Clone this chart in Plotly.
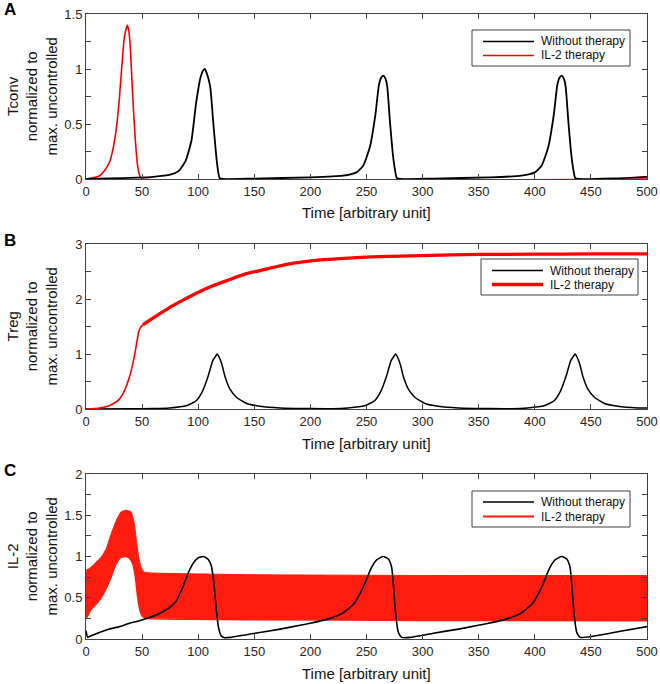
import plotly.graph_objects as go

# ---------------- data ----------------
# Panel A: Tconv
a_black_t = [0, 20, 45, 60, 75, 83, 89, 94, 98, 102,
             104, 105.8, 108, 110.7, 113.7, 116.7, 119, 122, 150, 200,
             229, 241, 247, 253, 258, 261, 263, 265, 267, 268.5,
             271, 274, 277, 280, 310, 360, 388, 400, 406, 412,
             417, 420, 422, 424, 426, 427.5, 430, 433, 436, 439,
             470, 500]
a_black_v = [0, 0.005, 0.012, 0.02, 0.04, 0.076, 0.17, 0.35, 0.68, 0.92,
             0.98, 1.0, 0.95, 0.84, 0.48, 0.15, 0.01, 0.0, 0.004, 0.015,
             0.03, 0.06, 0.12, 0.29, 0.59, 0.85, 0.92, 0.94, 0.91, 0.84,
             0.51, 0.18, 0.01, 0.0, 0.004, 0.015, 0.03, 0.06, 0.12, 0.29,
             0.59, 0.85, 0.92, 0.94, 0.91, 0.84, 0.51, 0.18, 0.01, 0.0,
             0.005, 0.02]
a_red_t = [0, 6, 12, 16.4, 20.8, 23.8, 26.8, 29.8, 32.1, 34.2,
           36.8, 38.4, 39.8, 41.7, 44, 46.1, 48.5, 50.6, 500]
a_red_v = [0, 0.01, 0.03, 0.076, 0.15, 0.26, 0.44, 0.74, 1.05, 1.29,
           1.40, 1.33, 1.14, 0.74, 0.35, 0.11, 0.015, 0, 0]

# Panel B: Treg
b_black_t = [0, 40, 60, 74.4, 89.3, 98.2, 104, 108.6, 113, 115.5,
             117, 118.5, 121, 124, 128.3, 134.3, 143.2, 155, 173, 200,
             220, 233.4, 248.3, 257.2, 263, 267.6, 272, 274.5, 276, 277.5,
             280, 283, 287.3, 293.3, 302.2, 314, 332, 360, 380, 393.4,
             408.3, 417.2, 423, 427.6, 432, 434.5, 436, 437.5, 440, 443,
             447.3, 453.3, 462.2, 474, 492, 500]
b_black_v = [0, 0.004, 0.008, 0.02, 0.06, 0.15, 0.33, 0.58, 0.88, 0.96,
             1.0, 0.95, 0.82, 0.58, 0.36, 0.21, 0.10, 0.05, 0.02, 0.008,
             0.006, 0.02, 0.06, 0.15, 0.33, 0.58, 0.88, 0.96, 1.0, 0.95,
             0.82, 0.58, 0.36, 0.21, 0.10, 0.05, 0.02, 0.008, 0.006, 0.02,
             0.06, 0.15, 0.33, 0.58, 0.88, 0.96, 1.0, 0.95, 0.82, 0.58,
             0.36, 0.21, 0.10, 0.05, 0.02, 0.017]
b_red_rise_t = [0, 11.9, 17.9, 23.8, 29.8, 34.2, 38.7, 41.7, 44, 45.5, 47, 48.5, 50.6]
b_red_rise_v = [0, 0.018, 0.04, 0.09, 0.18, 0.33, 0.58, 0.82, 1.06, 1.24, 1.41, 1.48, 1.53]
b_red_plateau_t = [50.6, 56.5, 65.5, 77.4, 89.3, 99.7, 113, 125, 143, 160,
                   179, 209, 230, 260, 300, 350, 400, 450, 500]
b_red_plateau_v = [1.53, 1.61, 1.73, 1.88, 2.01, 2.12, 2.24, 2.33, 2.46, 2.54,
                   2.63, 2.71, 2.74, 2.77, 2.79, 2.81, 2.815, 2.82, 2.82]

# Panel C: IL-2
c_black_t = [0, 1.5, 4.5, 11.9, 20.8, 29.8, 38.7, 47.6, 56.5, 65.5,
             74.4, 80.4, 86.3, 90.8, 95.2, 99.7, 104.5, 108.6, 111.6, 113.7,
             116, 118.1, 120.5, 123.5, 128.3, 150.6, 173, 199.7, 217.5, 229.4,
             238.3, 245.7, 250.2, 254.6, 259.1, 265, 269.5, 272.4, 273.9, 276,
             278.4, 281.4, 288.8, 309.6, 332, 358.7, 376.5, 388.4, 397.3, 404.7,
             409.2, 413.6, 418.1, 424, 428.5, 431.4, 432.9, 435, 437.4, 440.4,
             447.8, 475, 500]
c_black_v = [0.10, 0.02, 0.04, 0.08, 0.12, 0.15, 0.19, 0.22, 0.26, 0.31,
             0.38, 0.46, 0.63, 0.79, 0.91, 0.98, 1.0, 0.97, 0.89, 0.71,
             0.38, 0.14, 0.04, 0.016, 0.02, 0.07, 0.12, 0.19, 0.25, 0.32,
             0.42, 0.59, 0.73, 0.87, 0.96, 1.0, 0.97, 0.87, 0.67, 0.30,
             0.08, 0.02, 0.02, 0.07, 0.12, 0.19, 0.25, 0.32, 0.42, 0.59,
             0.73, 0.87, 0.96, 1.0, 0.97, 0.87, 0.67, 0.30, 0.08, 0.02,
             0.025, 0.09, 0.15]
# IL-2 therapy oscillates rapidly: upper and lower envelopes of the band
c_red_upper_t = [0, 4.5, 8.9, 13.4, 17.9, 22.3, 26.8, 31.2, 35.7, 40.2,
                 43.2, 44.6, 47, 49.1, 52.1, 59.5, 143, 300, 500]
c_red_upper_v = [0.83, 0.87, 0.93, 0.99, 1.09, 1.27, 1.43, 1.54, 1.56, 1.54,
                 1.39, 1.23, 0.99, 0.87, 0.81, 0.80, 0.78, 0.77, 0.77]
c_red_lower_t = [0, 1.5, 4.5, 8.9, 13.4, 17.9, 22.3, 26.8, 31.2, 35.7,
                 38.7, 41.7, 44, 46.1, 48.2, 50.6, 53.6, 89, 143, 300, 500]
c_red_lower_v = [0.25, 0.28, 0.36, 0.42, 0.5, 0.61, 0.75, 0.91, 0.99, 1.0,
                 0.98, 0.91, 0.75, 0.5, 0.34, 0.27, 0.25, 0.24, 0.234, 0.225, 0.22]

x_ticks = [0, 50, 100, 150, 200, 250, 300, 350, 400, 450, 500]
a_yticks = [0, 0.5, 1, 1.5]
a_yticklabels = ["0", "0.5", "1", "1.5"]
b_yticks = [0, 1, 2, 3]
b_yticklabels = ["0", "1", "2", "3"]
c_yticks = [0, 0.5, 1, 1.5, 2]
c_yticklabels = ["0", "0.5", "1", "1.5", "2"]
series_names = ["Without therapy", "IL-2 therapy"]
panel_titles = ["Tconv", "Treg", "IL-2"]
panel_letters = ["A", "B", "C"]
x_title = "Time [arbitrary unit]"

# ---------------- style ----------------
W, H = 660, 684
FONT = "Liberation Sans, Arial, Helvetica, sans-serif"
RED = "#ff0000"
RED_BAND = "rgb(255,28,14)"
BLACK = "#000000"
AX = "#404040"


def px(x):
    return x / W


def py(y):
    return 1 - y / H


X0, X1 = 86, 647
panels_px = [(14, 179), (244, 409), (474, 639)]

fig = go.Figure()

spline = dict(shape="spline", smoothing=0.5)

# Panel A
fig.add_trace(go.Scatter(x=a_red_t, y=a_red_v, mode="lines", name=series_names[1],
                         line=dict(color=RED, width=1.6, **spline), xaxis="x", yaxis="y"))
fig.add_trace(go.Scatter(x=a_black_t, y=a_black_v, mode="lines", name=series_names[0],
                         line=dict(color=BLACK, width=1.8, **spline), xaxis="x", yaxis="y"))

# Panel B
fig.add_trace(go.Scatter(x=b_black_t, y=b_black_v, mode="lines", name=series_names[0],
                         line=dict(color=BLACK, width=1.5, **spline), xaxis="x2", yaxis="y2"))
fig.add_trace(go.Scatter(x=b_red_rise_t, y=b_red_rise_v, mode="lines", name=series_names[1],
                         line=dict(color=RED, width=1.6, **spline), xaxis="x2", yaxis="y2"))
fig.add_trace(go.Scatter(x=b_red_plateau_t, y=b_red_plateau_v, mode="lines", name=series_names[1],
                         line=dict(color=RED, width=3.3, **spline), xaxis="x2", yaxis="y2"))

# Panel C
fig.add_trace(go.Scatter(x=c_red_lower_t, y=c_red_lower_v, mode="lines", name=series_names[1],
                         line=dict(color=RED_BAND, width=1.5, **spline), xaxis="x3", yaxis="y3"))
fig.add_trace(go.Scatter(x=c_red_upper_t, y=c_red_upper_v, mode="lines", name=series_names[1],
                         line=dict(color=RED_BAND, width=1.0, **spline), fill="tonexty",
                         fillcolor=RED_BAND, xaxis="x3", yaxis="y3"))
fig.add_trace(go.Scatter(x=c_black_t, y=c_black_v, mode="lines", name=series_names[0],
                         line=dict(color=BLACK, width=1.6, **spline), xaxis="x3", yaxis="y3"))

common = dict(showline=True, linecolor=AX, linewidth=1, mirror="ticks", ticks="inside",
              ticklen=5, tickcolor=AX, tickwidth=1, showgrid=False, zeroline=False,
              tickfont=dict(size=13, color="#262626", family=FONT), automargin=False,
              fixedrange=True)

layout = dict(width=W, height=H, margin=dict(l=0, r=0, t=0, b=0),
              paper_bgcolor="white", plot_bgcolor="white",
              font=dict(family=FONT, color="#111"), showlegend=False)

y_specs = [(1.5, a_yticks, a_yticklabels, 0.25),
           (3, b_yticks, b_yticklabels, 0.5),
           (2, c_yticks, c_yticklabels, 0.25)]
# legend boxes (pixel layout): left, top, right, bottom, line x0, line x1, text x, row1 y, row2 y
legend_boxes = [(472, 30, 630, 66, 483, 534, 539, 41.5, 55.5),
                (481, 259, 638, 295, 492, 543, 548, 270.5, 284.5),
                (472, 491, 630, 527, 483, 534, 539, 502, 516.5)]
legend_red_width = [1.6, 3.3, 2.0]
legend_red_color = [RED, RED, RED_BAND]

annotations = []
shapes = []
for i, ((top, bot), (ymax, tv, tt, minor_dt)) in enumerate(zip(panels_px, y_specs)):
    sfx = "" if i == 0 else str(i + 1)
    layout["xaxis" + sfx] = dict(common, domain=[px(X0), px(X1)], range=[0, 500],
                                 tickvals=x_ticks, anchor="y" + sfx)
    layout["yaxis" + sfx] = dict(common, domain=[py(bot), py(top)], range=[0, ymax],
                                 tickvals=tv, ticktext=tt, anchor="x" + sfx,
                                 minor=dict(ticks="inside", ticklen=5, tickcolor=AX,
                                            dtick=minor_dt, tick0=0))
    annotations.append(dict(text=panel_letters[i], x=px(2), y=py(top - 4), xref="paper", yref="paper",
                            xanchor="left", yanchor="middle", showarrow=False,
                            font=dict(size=17, family=FONT, color="#000", weight="bold")))
    annotations.append(dict(text=panel_titles[i] + "<br>normalized to<br>max. uncontrolled",
                            x=px(31), y=py((top + bot) / 2), xref="paper", yref="paper",
                            xanchor="center", yanchor="middle", textangle=-90, showarrow=False,
                            align="center", font=dict(size=15, family=FONT, color="#111")))
    annotations.append(dict(text=x_title, x=px((X0 + X1) / 2), y=py(bot + 34),
                            xref="paper", yref="paper", xanchor="center", yanchor="middle",
                            showarrow=False, font=dict(size=15, family=FONT, color="#111")))

    # legend
    l, t, r, b, lx0, lx1, tx, r1, r2 = legend_boxes[i]
    shapes.append(dict(type="rect", xref="paper", yref="paper", x0=px(l), x1=px(r),
                       y0=py(b), y1=py(t), line=dict(color=AX, width=1), fillcolor="white",
                       layer="above"))
    shapes.append(dict(type="line", xref="paper", yref="paper", x0=px(lx0), x1=px(lx1),
                       y0=py(r1), y1=py(r1), line=dict(color=BLACK, width=1.6), layer="above"))
    shapes.append(dict(type="line", xref="paper", yref="paper", x0=px(lx0), x1=px(lx1),
                       y0=py(r2), y1=py(r2),
                       line=dict(color=legend_red_color[i], width=legend_red_width[i]), layer="above"))
    for name, ry in zip(series_names, (r1, r2)):
        annotations.append(dict(text=name, x=px(tx), y=py(ry), xref="paper", yref="paper",
                                xanchor="left", yanchor="middle", showarrow=False,
                                font=dict(size=12, family=FONT, color="#111")))

layout["annotations"] = annotations
layout["shapes"] = shapes
fig.update_layout(**layout)

fig.write_html("out.html", config={"displayModeBar": False},
               post_script="document.body.style.margin='0';document.body.style.overflow='hidden';")
